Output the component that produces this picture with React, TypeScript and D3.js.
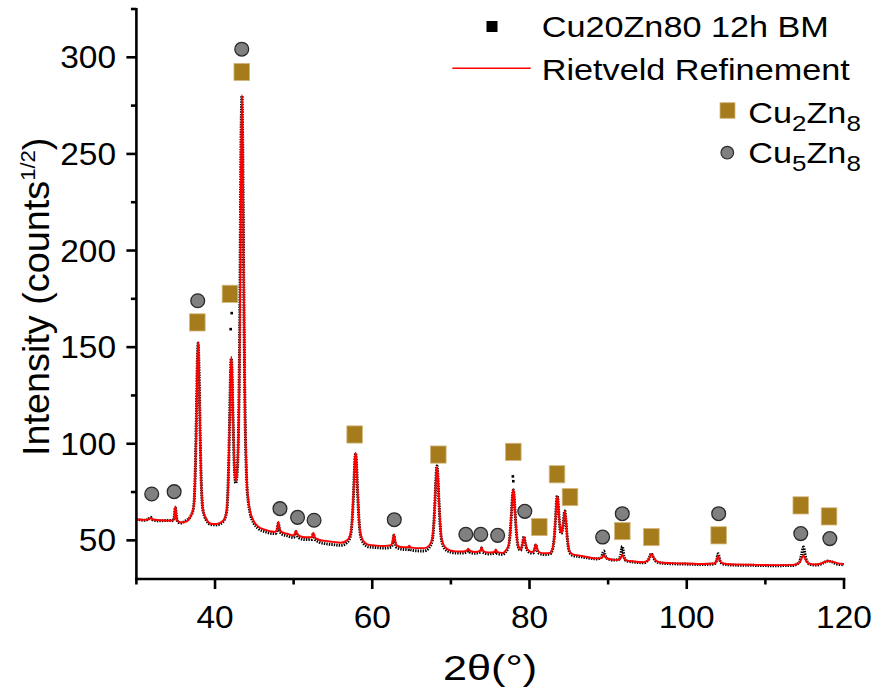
import React from "react";
import * as d3 from "d3";

// ---- data ----
// Rietveld refinement (calculated profile): [2θ, intensity]
const calcData: [number, number][] = [
  [30.0, 60.8], [31.0, 60.6], [31.5, 60.8], [31.8, 61.6], [32.1, 60.8], [33.0, 60.4], [34.0, 60.2],
  [34.7, 60.4], [34.85, 63.5], [34.95, 67.5], [35.05, 63.5], [35.25, 60.0], [35.6, 59.3], [36.2, 59.6],
  [36.85, 62.0], [37.25, 66.8], [37.5, 87.0], [37.65, 118.2], [37.75, 141.7], [37.85, 152.5],
  [37.95, 141.4], [38.05, 117.9], [38.2, 86.9], [38.45, 66.4], [38.85, 61.3], [39.5, 58.6],
  [40.2, 58.5], [41.0, 60.0], [41.47, 65.0], [41.72, 85.9], [41.87, 114.0], [41.97, 135.4],
  [42.07, 145.0], [42.17, 136.6], [42.27, 117.2], [42.42, 92.5], [42.63, 80.5], [42.83, 86.9],
  [43.08, 128.0], [43.23, 194.0], [43.33, 250.0], [43.43, 280.5], [43.53, 250.0], [43.63, 194.0],
  [43.78, 127.3], [44.03, 82.0], [44.23, 71.1], [44.43, 65.8], [44.93, 59.9], [45.43, 57.4],
  [46.43, 55.4], [47.2, 54.6], [47.7, 54.4], [47.9, 56.0], [48.05, 59.5], [48.2, 56.3],
  [48.45, 54.4], [49.2, 53.4], [50.0, 52.6], [50.15, 53.6], [50.3, 55.0], [50.45, 53.4],
  [50.8, 52.2], [51.5, 51.6], [52.3, 51.6], [52.5, 54.0], [52.7, 51.6], [53.2, 50.4], [54.0, 49.7],
  [55.0, 49.2], [56.0, 48.8], [56.88, 50.3], [57.28, 54.3], [57.53, 67.2], [57.68, 81.8],
  [57.78, 91.3], [57.88, 95.4], [57.98, 91.3], [58.08, 81.6], [58.23, 67.0], [58.48, 54.0],
  [58.88, 49.6], [59.5, 47.8], [60.5, 47.3], [61.5, 47.1], [62.4, 47.5], [62.6, 49.5],
  [62.76, 53.0], [62.92, 49.5], [63.15, 47.3], [64.0, 46.4], [64.55, 46.4], [64.7, 47.2],
  [64.85, 46.4], [65.6, 46.0], [66.6, 46.0], [67.23, 47.3], [67.63, 50.9], [67.88, 62.7],
  [68.03, 75.9], [68.13, 84.5], [68.23, 88.0], [68.33, 84.3], [68.43, 75.7], [68.58, 62.5],
  [68.83, 50.7], [69.23, 46.6], [69.9, 44.8], [70.6, 44.3], [71.5, 44.2], [72.05, 44.8],
  [72.2, 45.7], [72.35, 44.8], [73.0, 44.0], [73.75, 44.6], [73.9, 46.5], [74.05, 44.6],
  [74.8, 43.7], [75.55, 44.0], [75.7, 45.3], [75.85, 44.0], [76.6, 43.5], [76.94, 44.6],
  [77.34, 47.5], [77.59, 56.5], [77.74, 66.7], [77.84, 73.4], [77.94, 76.3], [78.04, 73.4],
  [78.14, 66.7], [78.29, 56.6], [78.54, 47.6], [78.85, 45.3], [79.0, 46.5], [79.15, 49.0],
  [79.3, 51.7], [79.45, 49.0], [79.7, 45.5], [80.2, 44.0], [80.5, 44.2], [80.65, 45.8],
  [80.8, 48.0], [80.95, 45.8], [81.2, 44.0], [81.8, 43.3], [82.53, 43.4], [82.93, 45.8],
  [83.18, 53.3], [83.33, 62.8], [83.43, 69.6], [83.53, 72.8], [83.63, 70.2], [83.73, 64.0],
  [83.88, 56.5], [84.02, 54.0], [84.15, 55.0], [84.3, 58.8], [84.4, 63.1], [84.5, 65.0],
  [84.6, 61.8], [84.7, 56.8], [84.85, 49.8], [85.1, 44.3], [85.5, 42.8], [86.2, 42.2],
  [87.3, 41.4], [88.5, 40.7], [89.1, 40.8], [89.3, 41.5], [89.45, 42.3], [89.6, 41.4],
  [89.9, 40.5], [90.6, 40.0], [91.3, 39.9], [91.6, 40.8], [91.8, 42.7], [92.0, 40.8],
  [92.3, 39.6], [93.2, 39.1], [94.5, 38.7], [95.1, 39.8], [95.35, 41.8], [95.5, 43.0],
  [95.7, 41.8], [96.0, 39.8], [96.6, 38.6], [98.0, 38.2], [100.0, 38.0], [102.0, 37.8],
  [103.5, 38.0], [103.8, 39.5], [104.0, 41.9], [104.2, 39.5], [104.6, 38.0], [106.0, 37.5],
  [108.0, 37.4], [111.0, 37.2], [113.5, 37.3], [114.3, 38.3], [114.6, 40.5], [114.85, 42.2],
  [115.1, 40.0], [115.5, 38.0], [116.3, 37.5], [117.0, 37.9], [117.5, 38.8], [118.0, 39.3],
  [118.5, 39.0], [119.2, 38.1], [120.0, 37.8],
];

// Measured pattern, Cu20Zn80 12h BM (dense scan): [2θ, intensity]
const observedData: [number, number][] = [
  [30.0, 61.0], [31.0, 60.4], [31.5, 60.9], [31.8, 61.9], [32.1, 60.6], [33.0, 60.1], [34.0, 60.3],
  [34.7, 60.2], [34.85, 63.2], [34.95, 67.0], [35.05, 63.8], [35.25, 59.6], [35.6, 59.0], [36.2, 59.9],
  [36.85, 62.2], [37.25, 66.5], [37.5, 87.5], [37.65, 119.0], [37.75, 142.0], [37.85, 152.0],
  [37.95, 141.0], [38.05, 118.5], [38.2, 87.5], [38.45, 66.0], [38.85, 60.8], [39.5, 58.2],
  [40.2, 58.0], [41.0, 59.6], [41.47, 64.6], [41.72, 86.5], [41.87, 115.0], [41.97, 136.0],
  [42.07, 144.0], [42.17, 136.0], [42.27, 117.0], [42.42, 92.5], [42.63, 79.5], [42.83, 86.0],
  [43.08, 135.0], [43.18, 180.0], [43.27, 240.0], [43.38, 276.0], [43.43, 280.0], [43.53, 250.0],
  [43.63, 195.0], [43.78, 128.0], [44.03, 81.0], [44.23, 70.0], [44.43, 64.8], [44.93, 58.9],
  [45.43, 56.4], [46.43, 54.4], [47.2, 53.6], [47.7, 53.5], [47.9, 55.4], [48.05, 58.8],
  [48.2, 55.6], [48.45, 53.4], [49.2, 52.3], [50.0, 51.5], [50.15, 52.8], [50.3, 54.4],
  [50.45, 52.6], [50.8, 51.0], [51.5, 50.4], [52.3, 50.5], [52.5, 53.4], [52.7, 50.6],
  [53.2, 49.2], [54.0, 48.3], [55.0, 47.8], [56.0, 47.4], [56.88, 49.2], [57.28, 53.6],
  [57.53, 66.5], [57.68, 81.0], [57.78, 91.0], [57.88, 95.0], [57.98, 91.0], [58.08, 81.0],
  [58.23, 66.4], [58.48, 53.2], [58.88, 48.6], [59.5, 46.7], [60.5, 46.3], [61.5, 46.0],
  [62.4, 46.5], [62.6, 48.6], [62.76, 52.6], [62.92, 48.6], [63.15, 46.2], [64.0, 45.3],
  [64.55, 45.2], [64.7, 46.3], [64.85, 45.2], [65.6, 44.6], [66.6, 44.5], [67.23, 46.2],
  [67.63, 50.0], [67.88, 62.0], [68.03, 75.5], [68.13, 84.5], [68.23, 88.5], [68.33, 84.0],
  [68.43, 75.0], [68.58, 61.8], [68.83, 49.8], [69.23, 45.6], [69.9, 44.0], [70.6, 43.5],
  [71.5, 43.4], [72.05, 44.0], [72.2, 45.2], [72.35, 44.0], [73.0, 43.3], [73.75, 43.9],
  [73.9, 46.0], [74.05, 43.9], [74.8, 43.0], [75.55, 43.3], [75.7, 44.8], [75.85, 43.3],
  [76.6, 42.7], [76.94, 43.9], [77.34, 47.0], [77.59, 56.5], [77.74, 66.5], [77.84, 73.0],
  [77.94, 76.0], [78.04, 73.0], [78.14, 66.5], [78.29, 56.5], [78.54, 47.0], [78.85, 44.8],
  [79.0, 46.2], [79.15, 49.0], [79.3, 52.0], [79.45, 48.8], [79.7, 45.0], [80.2, 43.4],
  [80.5, 43.6], [80.65, 45.3], [80.8, 47.8], [80.95, 45.3], [81.2, 43.4], [81.8, 42.7],
  [82.53, 42.8], [82.93, 45.3], [83.18, 53.0], [83.33, 62.5], [83.43, 69.8], [83.53, 73.2],
  [83.63, 70.0], [83.73, 63.6], [83.88, 56.0], [84.02, 53.6], [84.15, 54.6], [84.3, 58.6],
  [84.4, 63.4], [84.5, 65.2], [84.6, 61.6], [84.7, 56.4], [84.85, 49.2], [85.1, 43.8],
  [85.5, 42.2], [86.2, 41.7], [87.3, 41.0], [88.5, 40.4], [89.1, 41.0], [89.3, 43.0],
  [89.45, 44.5], [89.6, 42.6], [89.9, 40.6], [90.6, 39.8], [91.3, 40.0], [91.6, 42.5],
  [91.8, 46.9], [92.0, 42.0], [92.3, 39.4], [93.2, 38.8], [94.5, 38.4], [95.1, 39.8],
  [95.35, 42.0], [95.5, 43.2], [95.7, 41.6], [96.0, 39.5], [96.6, 38.3], [98.0, 37.9],
  [100.0, 37.7], [102.0, 37.5], [103.5, 37.8], [103.8, 39.8], [104.0, 43.1], [104.2, 39.8],
  [104.6, 37.8], [106.0, 37.2], [108.0, 37.1], [111.0, 36.9], [113.5, 37.0], [114.3, 38.6],
  [114.6, 42.5], [114.85, 46.5], [115.1, 41.5], [115.5, 38.0], [116.3, 37.2], [117.0, 37.6],
  [117.5, 38.6], [118.0, 39.3], [118.5, 38.8], [119.2, 37.6], [120.0, 37.4],
];

// Isolated measured points that stand clear above the fitted peaks: [2θ, intensity]
const observedPeakDots: [number, number][] = [
  [41.99, 159.3], [42.12, 167.6], [77.88, 83.1], [77.94, 80.6],
];

// Phase markers: [2θ, intensity at which the marker sits]
const cu2zn8Marks: [number, number][] = [
  [37.75, 162.8], [41.9, 177.6], [43.4, 292.4], [57.76, 104.8], [68.4, 94.4], [77.94, 95.8],
  [81.25, 56.9], [83.5, 84.2], [85.15, 72.4], [91.8, 54.8], [95.5, 51.7], [104.06, 52.6],
  [114.5, 68.1], [118.1, 62.4],
];
const cu5zn8Marks: [number, number][] = [
  [31.95, 74.0], [34.8, 75.2], [37.8, 174.0], [43.4, 304.2], [48.26, 66.4], [50.5, 61.9],
  [52.6, 60.4], [62.8, 60.7], [71.9, 53.1], [73.8, 53.1], [75.95, 52.6], [79.4, 65.0],
  [89.3, 51.7], [91.8, 63.8], [104.06, 63.8], [114.5, 53.5], [118.2, 50.9],
];

const xMajorTicks = [40, 60, 80, 100, 120];
const xMinorTicks = [30, 50, 70, 90, 110];
const yMajorTicks = [50, 100, 150, 200, 250, 300];
const yMinorTicks = [75, 125, 175, 225, 275, 325];
const seriesLabels = ["Cu20Zn80 12h BM", "Rietveld Refinement"];

const FONT = "'Liberation Sans', Arial, sans-serif";
const GOLD = "#A67B1B";
const GOLD_EDGE = "#D2B97E";
const GRAY = "#808080";

function SText(props: {
  x: number; y: number; sx?: number; rot?: number; fs: number;
  anchor?: "start" | "middle" | "end"; children: React.ReactNode;
}) {
  const { x, y, sx = 1, rot = 0, fs, anchor = "start", children } = props;
  return (
    <g transform={`translate(${x},${y}) rotate(${rot}) scale(${sx},1)`}>
      <text x={0} y={0} fontSize={fs} textAnchor={anchor} fontFamily={FONT} fill="#000">
        {children}
      </text>
    </g>
  );
}

export default function App() {
  const W = 878, H = 699;
  const x = d3.scaleLinear().domain([30, 120]).range([136.4, 844]);
  const y = d3.scaleLinear().domain([30, 325]).range([579, 9]);
  const line = d3
    .line<[number, number]>()
    .x((d) => x(d[0]))
    .y((d) => y(d[1]))
    .curve(d3.curveMonotoneX);

  const axisY0 = y(30);
  const axisX0 = x(30);
  const tickFs = 31;
  const tickSx = 1.08;

  return (
    <svg
      width={W}
      height={H}
      viewBox={`0 0 ${W} ${H}`}
      style={{ position: "absolute", left: 0, top: 0, background: "#fff" }}
    >
      <rect x={0} y={0} width={W} height={H} fill="#fff" />

      {/* observed pattern (dense dots) */}
      <path
        d={line(observedData) || ""}
        fill="none"
        stroke="#000"
        strokeWidth={3}
        strokeDasharray="1.4 1.1"
      />
      {observedPeakDots.map((p, i) => (
        <rect key={"od" + i} x={x(p[0]) - 1.3} y={y(p[1]) - 1.3} width={2.6} height={2.6} fill="#000" />
      ))}
      {/* Rietveld fit */}
      <path d={line(calcData) || ""} fill="none" stroke="#ff0000" strokeWidth={1.9} strokeLinejoin="round" />

      {/* phase markers */}
      {cu2zn8Marks.map((m, i) => (
        <rect
          key={"s" + i}
          x={x(m[0]) - 7.8}
          y={y(m[1]) - 8.6}
          width={15.6}
          height={17.2}
          fill={GOLD}
          stroke={GOLD_EDGE}
          strokeWidth={0.8}
        />
      ))}
      {cu5zn8Marks.map((m, i) => (
        <circle key={"c" + i} cx={x(m[0])} cy={y(m[1])} r={6.9} fill={GRAY} stroke="#2a2a2a" strokeWidth={1.3} />
      ))}

      {/* axes */}
      <g stroke="#000" strokeWidth={2.6} fill="none">
        <line x1={axisX0} y1={y(325) - 1} x2={axisX0} y2={axisY0 + 1.3} />
        <line x1={axisX0 - 1.3} y1={axisY0} x2={x(120) + 1.3} y2={axisY0} />
        {xMajorTicks.map((t) => (
          <line key={"xM" + t} x1={x(t)} y1={axisY0} x2={x(t)} y2={axisY0 + 10} />
        ))}
        {xMinorTicks.map((t) => (
          <line key={"xm" + t} x1={x(t)} y1={axisY0} x2={x(t)} y2={axisY0 + 5.5} />
        ))}
        {yMajorTicks.map((t) => (
          <line key={"yM" + t} x1={axisX0} y1={y(t)} x2={axisX0 - 10} y2={y(t)} />
        ))}
        {yMinorTicks.map((t) => (
          <line key={"ym" + t} x1={axisX0} y1={y(t)} x2={axisX0 - 5.5} y2={y(t)} />
        ))}
      </g>

      {/* tick labels */}
      {xMajorTicks.map((t) => (
        <SText key={"xl" + t} x={x(t)} y={628} fs={tickFs} sx={tickSx} anchor="middle">
          {String(t)}
        </SText>
      ))}
      {yMajorTicks.map((t) => (
        <SText key={"yl" + t} x={116} y={y(t) + 11} fs={tickFs} sx={tickSx} anchor="end">
          {String(t)}
        </SText>
      ))}

      {/* axis titles */}
      <SText x={490} y={680} fs={36} sx={1.2} anchor="middle">
        2θ(°)
      </SText>
      <SText x={49} y={456} fs={36} sx={1.05} rot={-90} anchor="start">
        Intensity (counts
        <tspan fontSize={21} dy={-14}>1/2</tspan>
        <tspan fontSize={36} dy={14}>)</tspan>
      </SText>

      {/* legend */}
      <rect x={486.5} y={21} width={11} height={11} fill="#000" />
      <SText x={541.7} y={37.3} fs={29} sx={1.18}>
        {seriesLabels[0]}
      </SText>
      <line x1={452.3} y1={68.3} x2={530.7} y2={68.3} stroke="#ff0000" strokeWidth={1.4} />
      <SText x={541.7} y={80} fs={29} sx={1.18}>
        {seriesLabels[1]}
      </SText>
      <rect x={720} y={102.7} width={15} height={15.6} fill={GOLD} stroke={GOLD_EDGE} strokeWidth={0.8} />
      <SText x={748.3} y={122.7} fs={29} sx={1.18}>
        Cu<tspan fontSize={22} dy={8}>2</tspan>
        <tspan dy={-8}>Zn</tspan>
        <tspan fontSize={22} dy={8}>8</tspan>
      </SText>
      <circle cx={727.3} cy={152.7} r={6.3} fill={GRAY} stroke="#2a2a2a" strokeWidth={1.2} />
      <SText x={748.3} y={163.3} fs={29} sx={1.18}>
        Cu<tspan fontSize={22} dy={8}>5</tspan>
        <tspan dy={-8}>Zn</tspan>
        <tspan fontSize={22} dy={8}>8</tspan>
      </SText>
    </svg>
  );
}
